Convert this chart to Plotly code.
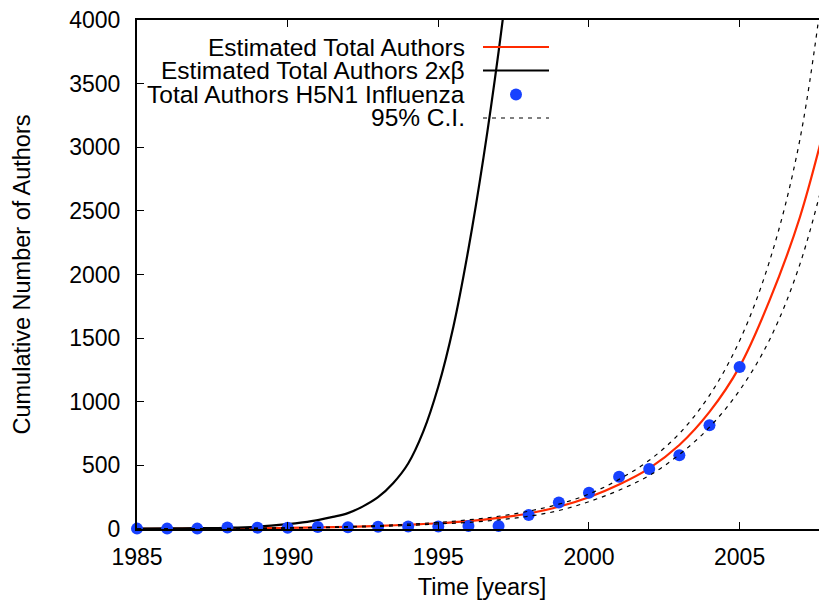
import plotly.graph_objects as go

# ---- data ----
obs_years = [1985, 1986, 1987, 1988, 1989, 1990, 1991, 1992, 1993, 1994, 1995,
             1996, 1997, 1998, 1999, 2000, 2001, 2002, 2003, 2004, 2005]
obs_authors = [3, 3, 3, 12, 10, 10, 15, 14, 18, 19, 20,
               24, 24, 110, 208, 285, 411, 471, 579, 815, 1273]

fit_years = [1985, 1986, 1987, 1988, 1989, 1990, 1991, 1992, 1993, 1994, 1995, 1996,
             1997, 1998, 1999, 2000, 2001, 2002, 2003, 2004, 2005, 2006, 2007, 2008]
est_total = [1.5, 2, 3, 4, 6, 9, 12, 17, 24, 34, 45, 62,
             87, 122, 175, 250, 350, 477, 660, 920, 1276, 1800, 2450, 3330]
ci_upper = [2, 2.5, 3.5, 5, 7, 9.5, 13, 19, 27, 38, 52, 72,
            100, 140, 195, 275, 390, 540, 750, 1050, 1480, 2110, 3060, 4700]
ci_lower = [1, 1.5, 2.5, 3.5, 5, 7, 10, 14, 20, 28, 40, 52,
            72, 100, 145, 215, 305, 420, 585, 800, 1090, 1490, 2080, 2950]

beta2_years = [1985, 1986, 1987, 1988, 1989, 1990, 1990.5, 1991, 1991.5, 1992, 1992.5,
               1993, 1993.5, 1994, 1994.5, 1995, 1995.5, 1996, 1996.5, 1997, 1997.5]
beta2_total = [3, 5, 7, 10, 18, 38, 52, 70, 95, 125, 178,
               250, 360, 515, 765, 1120, 1590, 2200, 2920, 3750, 4700]

x_ticks = [1985, 1990, 1995, 2000, 2005]
y_ticks = [0, 500, 1000, 1500, 2000, 2500, 3000, 3500, 4000]

legend_labels = ["Estimated Total Authors", "Estimated Total Authors 2x\u03b2",
                 "Total Authors H5N1 Influenza", "95% C.I."]

RED = "#ff2a00"
BLUE = "#1741ff"
FONT = "Liberation Sans, Arial, Helvetica, sans-serif"

fig = go.Figure()
fig.add_trace(go.Scatter(x=fit_years, y=est_total, mode="lines",
                         line=dict(color=RED, width=2.2, shape="spline"), showlegend=False))
fig.add_trace(go.Scatter(x=beta2_years, y=beta2_total, mode="lines",
                         line=dict(color="black", width=2.2, shape="spline"), showlegend=False))
fig.add_trace(go.Scatter(x=obs_years, y=obs_authors, mode="markers",
                         marker=dict(color=BLUE, size=12), cliponaxis=False, showlegend=False))
fig.add_trace(go.Scatter(x=fit_years, y=ci_upper, mode="lines",
                         line=dict(color="black", width=1.2, dash="4px,5px", shape="spline"),
                         showlegend=False))
fig.add_trace(go.Scatter(x=fit_years, y=ci_lower, mode="lines",
                         line=dict(color="black", width=1.2, dash="4px,5px", shape="spline"),
                         showlegend=False))
# invisible trace on right axis for mirrored ticks without line
fig.add_trace(go.Scatter(x=[fit_years[0]], y=[0], yaxis="y2", mode="markers",
                         marker=dict(opacity=0), showlegend=False, hoverinfo="skip"))

# page body has an 8px margin; target plot box in screen pixels
OFF = 8
FIG_W, FIG_H = 827 - OFF, 603 - OFF
L, R, T, B = 137, 827, 20, 529
W, H = R - L, B - T
def px(xp):
    return (xp - L) / W
def py(yp):
    return (B - yp) / H

rows = [47, 70.5, 94.5, 118]
for lab, yy in zip(legend_labels, rows):
    fig.add_annotation(text=lab, x=px(467), y=py(yy), xref="paper", yref="paper",
                       xanchor="right", yanchor="middle", showarrow=False,
                       font=dict(family=FONT, size=24.5, color="black"))
fig.add_shape(type="line", xref="paper", yref="paper", x0=px(483), x1=px(549),
              y0=py(rows[0]), y1=py(rows[0]), line=dict(color=RED, width=2.2))
fig.add_shape(type="line", xref="paper", yref="paper", x0=px(483), x1=px(549),
              y0=py(rows[1]), y1=py(rows[1]), line=dict(color="black", width=2.2))
fig.add_shape(type="circle", xref="paper", yref="paper", x0=px(510), x1=px(522),
              y0=py(rows[2] + 6), y1=py(rows[2] - 6), fillcolor=BLUE, line=dict(width=0))
fig.add_shape(type="line", xref="paper", yref="paper", x0=px(483), x1=px(549),
              y0=py(rows[3]), y1=py(rows[3]), line=dict(color="black", width=1.2, dash="4px,5px"))

fig.update_layout(
    width=FIG_W, height=FIG_H,
    margin=dict(l=L - OFF, r=(FIG_W + OFF) - R, t=T - OFF, b=(FIG_H + OFF) - B),
    paper_bgcolor="white", plot_bgcolor="white",
    font=dict(family=FONT, size=23, color="black"),
    showlegend=False,
    xaxis=dict(range=[1985, 2007.9], tickvals=x_ticks, ticks="inside", ticklen=7,
               tickwidth=1, tickcolor="black", showline=True, linecolor="black",
               linewidth=2, mirror="ticks", showgrid=False, zeroline=False,
               ticklabelstandoff=6, ticklabeloverflow="allow",
               title=dict(text="Time [years]", standoff=10, font=dict(size=23.5)),
               automargin=False),
    yaxis=dict(range=[0, 4000], tickvals=y_ticks, ticks="inside", ticklen=7,
               tickwidth=1, tickcolor="black", showline=True, linecolor="black",
               linewidth=2, mirror=False, showgrid=False, zeroline=False,
               ticklabelstandoff=10, ticklabeloverflow="allow",
               title=dict(text="Cumulative Number of Authors", standoff=32, font=dict(size=23.5)),
               automargin=False),
    yaxis2=dict(range=[0, 4000], tickvals=y_ticks, overlaying="y", side="right",
                ticks="inside", ticklen=7, tickwidth=1, tickcolor="black",
                showline=False, showticklabels=False, showgrid=False, zeroline=False),
)

fig.write_html("out.html")
